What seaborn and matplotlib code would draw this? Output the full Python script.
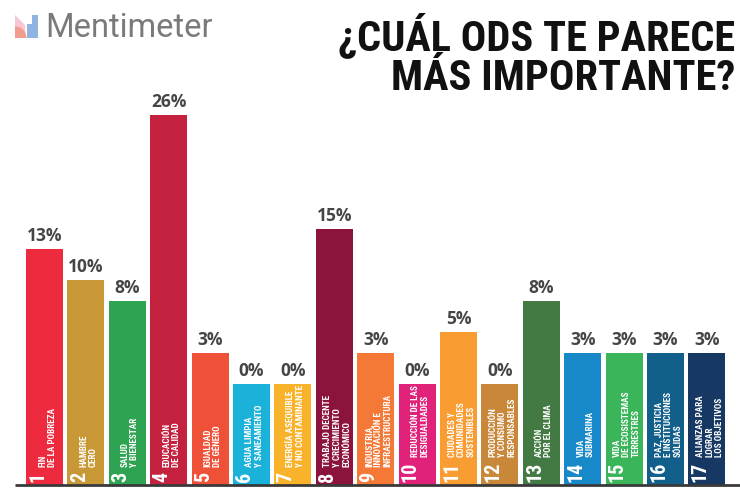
import matplotlib
matplotlib.use('Agg')
import matplotlib.pyplot as plt
import seaborn as sns
import pandas as pd
from matplotlib import font_manager as fm
from matplotlib.patches import Rectangle, Wedge, Polygon

# ODS numbers, share of votes (%) and the icon text inside each bar
ods_num = list(range(1, 18))
percent = [13, 10, 8, 26, 3, 0, 0, 15, 3, 0, 5, 0, 8, 3, 3, 3, 3]
ods_text = [
    'FIN\nDE LA POBREZA',
    'HAMBRE\nCERO',
    'SALUD\nY BIENESTAR',
    'EDUCACIÓN\nDE CALIDAD',
    'IGUALDAD\nDE GÉNERO',
    'AGUA LIMPIA\nY SANEAMIENTO',
    'ENERGÍA ASEQUIBLE\nY NO CONTAMINANTE',
    'TRABAJO DECENTE\nY CRECIMIENTO\nECONÓMICO',
    'INDUSTRIA,\nINNOVACIÓN E\nINFRAESTRUCTURA',
    'REDUCCIÓN DE LAS\nDESIGUALDADES',
    'CIUDADES Y\nCOMUNIDADES\nSOSTENIBLES',
    'PRODUCCIÓN\nY CONSUMO\nRESPONSABLES',
    'ACCIÓN\nPOR EL CLIMA',
    'VIDA\nSUBMARINA',
    'VIDA\nDE ECOSISTEMAS\nTERRESTRES',
    'PAZ, JUSTICIA\nE INSTITUCIONES\nSÓLIDAS',
    'ALIANZAS PARA\nLOGRAR\nLOS OBJETIVOS',
]
ods_colors = ['#ee2b3e', '#c99836', '#2ea352', '#c4213f', '#ef5138', '#1bb2da',
              '#f9b32b', '#8c133b', '#f47836', '#e0227b', '#f99d33', '#c9873a',
              '#437a43', '#1788c8', '#3bb55a', '#135f8c', '#173863']
title_lines = ['¿CUÁL ODS TE PARECE', 'MÁS IMPORTANTE?']

sns.set_theme(style='white')
plt.rcParams['font.family'] = ['DejaVu Sans']

installed = {f.name for f in fm.fontManager.ttflist}


def pick(cands, default):
    for c in cands:
        if c in installed:
            return c
    return default


cond = pick(['Roboto Condensed', 'Liberation Sans Narrow', 'DejaVu Sans Condensed'], 'DejaVu Sans')
menti = pick(['Roboto', 'Open Sans'], 'DejaVu Sans')

base = 9.76  # icon block under every bar, in % units
df = pd.DataFrame({'ods': [str(n) for n in ods_num], 'pct': percent})
df['alto'] = df['pct'] + base

fig = plt.figure(figsize=(7.4, 4.88), dpi=100)
ax = fig.add_axes([0, 3 / 488, 1, 485 / 488])
sns.barplot(data=df, x='ods', y='alto', hue='ods', palette=ods_colors, legend=False,
            width=0.894, saturation=1, edgecolor='none', ax=ax)
ax.set_xlim(-1.075, 16.80)
ax.set_ylim(0, 485 / 10.35)
ax.axis('off')

# baseline
ax.plot([-0.71, 17.5], [0, 0], color='#3a3a3a', lw=2, clip_on=False, solid_capstyle='butt')

for i, (p, txt) in enumerate(zip(percent, ods_text)):
    ax.annotate(f'{p}%', (i, base + p), xytext=(0, 3), textcoords='offset points',
                ha='center', va='bottom', fontsize=12.5, fontweight='bold',
                color='#454545', family='Open Sans')
    num = ax.annotate(str(ods_num[i]), (i - 0.447, 0), xytext=(12.5, 2),
                      textcoords='offset points', rotation=90, rotation_mode='anchor',
                      ha='left', va='baseline', fontsize=14.5, fontweight='bold',
                      color='white', family=cond, stretch='condensed')
    ax.annotate(txt, xy=(i + 0.07, 1), xycoords=('data', num), xytext=(0, 3.5),
                textcoords='offset points', rotation=90, rotation_mode='anchor',
                ha='left', va='center', fontsize=6.6, fontweight='bold',
                color='white', family=cond, stretch='condensed', linespacing=1.05)

# title
fig.text(735 / 740, 1 - 50 / 488, title_lines[0], ha='right', va='baseline',
         fontsize=30.5, fontweight='bold', color='#111111', family=cond, stretch='condensed')
fig.text(735 / 740, 1 - 90 / 488, title_lines[1], ha='right', va='baseline',
         fontsize=30.5, fontweight='bold', color='#111111', family=cond, stretch='condensed')

# Mentimeter logo
fig.text(45 / 740, 1 - 37 / 488, 'Mentimeter', ha='left', va='baseline',
         fontsize=23.5, color='#7a7a7a', family=menti)
lax = fig.add_axes([15 / 740, 1 - 38 / 488, 23 / 740, 23 / 488])
lax.set_xlim(0, 1)
lax.set_ylim(0, 1)
lax.axis('off')
lax.add_patch(Polygon([[0, 0], [0, 1], [0.45, 0.55], [0.45, 0]], color='#f7c6d3', lw=0))
lax.add_patch(Wedge((0, 0), 0.5, 0, 90, color='#f29b8f', lw=0))
lax.add_patch(Rectangle((0.5, 0), 0.22, 0.62, color='#8fb4e3', lw=0))
lax.add_patch(Rectangle((0.74, 0), 0.26, 1.0, color='#8fb4e3', lw=0))

fig.savefig('out.png', dpi=100)
